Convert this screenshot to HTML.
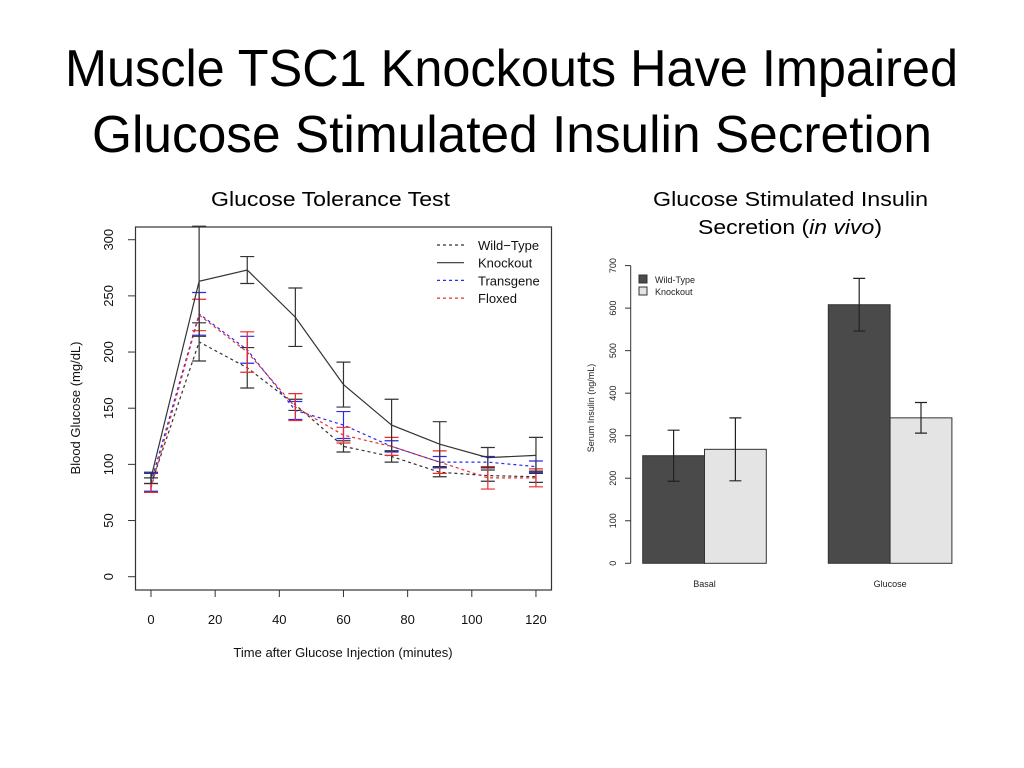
<!DOCTYPE html>
<html><head><meta charset="utf-8"><style>
body{margin:0;background:#fff;width:1024px;height:768px;overflow:hidden}
svg{display:block}
text{font-family:"Liberation Sans",sans-serif}
</style></head><body>
<svg id="s" width="1024" height="768" viewBox="0 0 1024 768">
<text x="65" y="86" textLength="893" lengthAdjust="spacingAndGlyphs" font-size="52" fill="#000">Muscle TSC1 Knockouts Have Impaired</text>
<text x="92" y="152" textLength="840" lengthAdjust="spacingAndGlyphs" font-size="52" fill="#000">Glucose Stimulated Insulin Secretion</text>
<text x="211" y="206" textLength="239" lengthAdjust="spacingAndGlyphs" font-size="20" fill="#000">Glucose Tolerance Test</text>
<text x="653" y="206" textLength="275" lengthAdjust="spacingAndGlyphs" font-size="20" fill="#000">Glucose Stimulated Insulin</text>
<text x="698" y="234" textLength="184" lengthAdjust="spacingAndGlyphs" font-size="20" fill="#000">Secretion (<tspan font-style="italic">in vivo</tspan>)</text>
<g id="left"></g>
<g id="right"></g>
</svg>
<script>
// ---- GTT data ----
const times=[0,15,30,45,60,75,90,105,120];
const wtMean=[82,209,186,153,116,107,93,90,89];
const wtErr=[6,17,18,5,5,5,4,5,5];
const koMean=[88,263,273,231,171,135,118,106,108];
const koErr=[5,49,12,26,20,23,20,9,16];
const tgMean=[84,234,202,148,135,116,102,102,98];
const tgErr=[8,19,12,8,12,5,5,5,5];
const flMean=[79,233,200,151,126,116,102,88,88];
const flErr=[4,14,18,12,7,8,10,10,8];
const xTicks=[0,20,40,60,80,100,120];
const yTicks=[0,50,100,150,200,250,300];
// ---- GSIS data ----
const groups=["Basal","Glucose"];
const wtIns=[253,608];
const wtInsErr=[60,62];
const koIns=[268,342];
const koInsErr=[74,36];
const insTicks=[0,100,200,300,400,500,600,700];

const NS="http://www.w3.org/2000/svg";
function mk(p,tag,a){const e=document.createElementNS(NS,tag);for(const k in a)e.setAttribute(k,a[k]);p.appendChild(e);return e;}
const L=document.getElementById('left');
const X=t=>151+t*3.208;
const Y=v=>576.7-v*1.1233;
let e;
e=mk(L,'rect',{x:135.5,y:227,width:416,height:363,fill:'none',stroke:'#333','stroke-width':1.2});


yTicks.forEach(v=>{
 e=mk(L,'line',{x1:128,x2:135.5,y1:Y(v),y2:Y(v),stroke:'#333'});
 
 
 e=mk(L,'text',{x:0,y:0,transform:`translate(113,${Y(v)}) rotate(-90)`,'text-anchor':'middle','font-size':13,fill:'#111'});e.textContent=v;
 
 
});
xTicks.forEach(t=>{
 e=mk(L,'line',{x1:X(t),x2:X(t),y1:590,y2:597,stroke:'#333'});
 
 
 e=mk(L,'text',{x:X(t),y:624,'text-anchor':'middle','font-size':13,fill:'#111'});e.textContent=t;
 
 
});
e=mk(L,'text',{x:343,y:657,'text-anchor':'middle','font-size':13,fill:'#111'});e.textContent='Time after Glucose Injection (minutes)';


e=mk(L,'text',{x:0,y:0,transform:'translate(80,408) rotate(-90)','text-anchor':'middle','font-size':13,fill:'#111'});e.textContent='Blood Glucose (mg/dL)';


const series=[
 {n:'wild-type',m:wtMean,er:wtErr,c:'#333',d:'3,3'},
 {n:'transgene',m:tgMean,er:tgErr,c:'#2a2aee',d:'3,3'},
 {n:'floxed',m:flMean,er:flErr,c:'#ee2a2a',d:'3,3'},
 {n:'knockout',m:koMean,er:koErr,c:'#333',d:''}];
series.forEach(s=>{
 const pts=times.map((t,i)=>X(t)+','+Y(s.m[i])).join(' ');
 e=mk(L,'polyline',{points:pts,fill:'none',stroke:s.c,'stroke-width':1.2,'stroke-dasharray':s.d});
 
 
 times.forEach((t,i)=>{
  const x=X(t),a=Y(s.m[i]+s.er[i]),b=Y(s.m[i]-s.er[i]);
  e=mk(L,'path',{d:`M${x},${a}V${b}M${x-7},${a}H${x+7}M${x-7},${b}H${x+7}`,stroke:s.c,'stroke-width':1.2,fill:'none'});
  
  
 });
});
const leg=[['Wild\u2212Type','#333','3,3'],['Knockout','#333',''],['Transgene','#2a2aee','3,3'],['Floxed','#ee2a2a','3,3']];
leg.forEach((l,i)=>{
 const y=245+i*17.7;
 e=mk(L,'line',{x1:437,x2:464,y1:y,y2:y,stroke:l[1],'stroke-dasharray':l[2],'stroke-width':1.2});
 
 
 e=mk(L,'text',{x:478,y:y+5,'font-size':13,fill:'#111'});e.textContent=l[0];
 
 
});
// ---- right chart ----
const R=document.getElementById('right');
const YR=v=>563.3-v*0.4253;
e=mk(R,'line',{x1:630.7,x2:630.7,y1:YR(0),y2:YR(700),stroke:'#333'});


insTicks.forEach(v=>{
 e=mk(R,'line',{x1:625,x2:630.7,y1:YR(v),y2:YR(v),stroke:'#333'});
 
 
 e=mk(R,'text',{x:0,y:0,transform:`translate(616,${YR(v)}) rotate(-90)`,'text-anchor':'middle','font-size':9,fill:'#222'});e.textContent=v;
 
 
});
e=mk(R,'text',{x:0,y:0,transform:'translate(594,408) rotate(-90)','text-anchor':'middle','font-size':9,fill:'#222'});e.textContent='Serum Insulin (ng/mL)';


const gx=[642.7,828.3],bw=61.8;
groups.forEach((g,i)=>{
 [[wtIns,wtInsErr,'#4a4a4a','wild-type'],[koIns,koInsErr,'#e4e4e4','knockout']].forEach((s,j)=>{
  const x=gx[i]+j*bw,v=s[0][i];
  e=mk(R,'rect',{x:x,y:YR(v),width:bw,height:YR(0)-YR(v),fill:s[2],stroke:'#333','stroke-width':1});
  
  
  const cx=x+bw/2,a=YR(v+s[1][i]),b=YR(v-s[1][i]);
  e=mk(R,'path',{d:`M${cx},${a}V${b}M${cx-6},${a}H${cx+6}M${cx-6},${b}H${cx+6}`,stroke:'#222','stroke-width':1.2,fill:'none'});
  
  
 });
 e=mk(R,'text',{x:gx[i]+bw,y:587,'text-anchor':'middle','font-size':9,fill:'#222'});e.textContent=g;
 
 
});
[['Wild-Type','#4a4a4a'],['Knockout','#e4e4e4']].forEach((l,i)=>{
 const y=275+i*12;
 e=mk(R,'rect',{x:639,y:y,width:8,height:8,fill:l[1],stroke:'#333'});
 
 
 e=mk(R,'text',{x:655,y:y+8,'font-size':9,fill:'#222'});e.textContent=l[0];
 
 
});
</script>
</body></html>
